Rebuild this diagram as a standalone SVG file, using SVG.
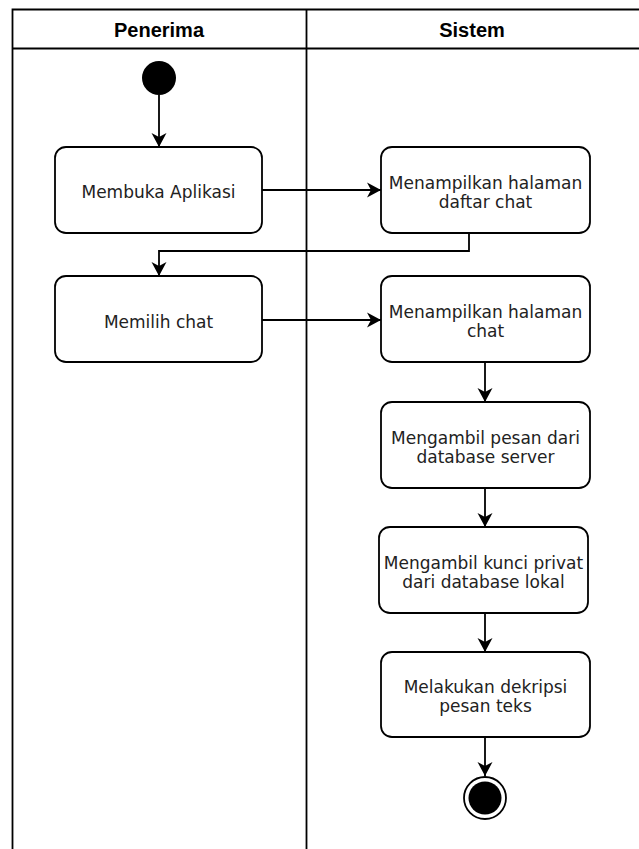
<svg xmlns="http://www.w3.org/2000/svg" width="639" height="849" viewBox="0 0 639 849">
  <style>
    .lane { fill: none; stroke: #000; stroke-width: 1.8; }
    .title { font-family: "Liberation Sans", Arial, sans-serif; font-weight: bold; font-size: 20px; fill: #000; text-anchor: middle; }
    .act rect { fill: #fff; stroke: #000; stroke-width: 1.8; }
    .act text { font-family: "DejaVu Sans", Verdana, sans-serif; font-size: 17px; fill: #222; text-anchor: middle; }
    .flow { fill: none; stroke: #000; stroke-width: 1.8; marker-end: url(#arrow); }
  </style>
  <defs>
    <marker id="arrow" markerUnits="userSpaceOnUse" markerWidth="18" markerHeight="18" viewBox="-16 -9 18 18" refX="0" refY="0" orient="auto">
      <path d="M0,0 L-14,-7.5 L-10,0 L-14,7.5 Z" fill="#000"/>
    </marker>
  </defs>

  <rect width="639" height="849" fill="#fff"/>

  <!-- swimlane frame -->
  <g id="lanes">
    <path class="lane" d="M12.5,849 V9.5 H640 M12.5,48.5 H640 M306.5,9.5 V849"/>
    <text class="title" x="159" y="36.5">Penerima</text>
    <text class="title" x="472" y="36.5">Sistem</text>
  </g>

  <!-- connectors -->
  <g id="connectors">
    <path class="flow" d="M159,95 V147"/>
    <path class="flow" d="M262,190 H381"/>
    <path class="flow" d="M469,233 V251 H159 V276"/>
    <path class="flow" d="M262,320 H381"/>
    <path class="flow" d="M485,362 V402"/>
    <path class="flow" d="M485,488 V527"/>
    <path class="flow" d="M485,613 V652"/>
    <path class="flow" d="M485,737 V776"/>
  </g>

  <g id="start">
    <circle cx="159" cy="78" r="17" fill="#000"/>
  </g>

  <g id="membuka-aplikasi" class="act">
    <rect x="55" y="147" width="207" height="86" rx="11"/>
    <text x="158.5" y="198">Membuka Aplikasi</text>
  </g>

  <g id="tampil-daftar-chat" class="act">
    <rect x="381" y="147" width="209" height="86" rx="11"/>
    <text x="485.5" y="189">Menampilkan halaman</text>
    <text x="485.5" y="208">daftar chat</text>
  </g>

  <g id="memilih-chat" class="act">
    <rect x="55" y="276" width="207" height="86" rx="11"/>
    <text x="158.5" y="328">Memilih chat</text>
  </g>

  <g id="tampil-chat" class="act">
    <rect x="381" y="276" width="209" height="86" rx="11"/>
    <text x="485.5" y="318">Menampilkan halaman</text>
    <text x="485.5" y="337">chat</text>
  </g>

  <g id="ambil-pesan" class="act">
    <rect x="381" y="402" width="209" height="86" rx="11"/>
    <text x="485.5" y="444">Mengambil pesan dari</text>
    <text x="485.5" y="463">database server</text>
  </g>

  <g id="ambil-kunci" class="act">
    <rect x="379" y="527" width="209" height="86" rx="11"/>
    <text x="483.5" y="569">Mengambil kunci privat</text>
    <text x="483.5" y="588">dari database lokal</text>
  </g>

  <g id="dekripsi" class="act">
    <rect x="381" y="652" width="209" height="85" rx="11"/>
    <text x="485.5" y="693">Melakukan dekripsi</text>
    <text x="485.5" y="712">pesan teks</text>
  </g>

  <g id="end">
    <circle cx="485" cy="798" r="21" fill="#fff" stroke="#000" stroke-width="1.8"/>
    <circle cx="485" cy="798" r="16.5" fill="#000"/>
  </g>
</svg>
